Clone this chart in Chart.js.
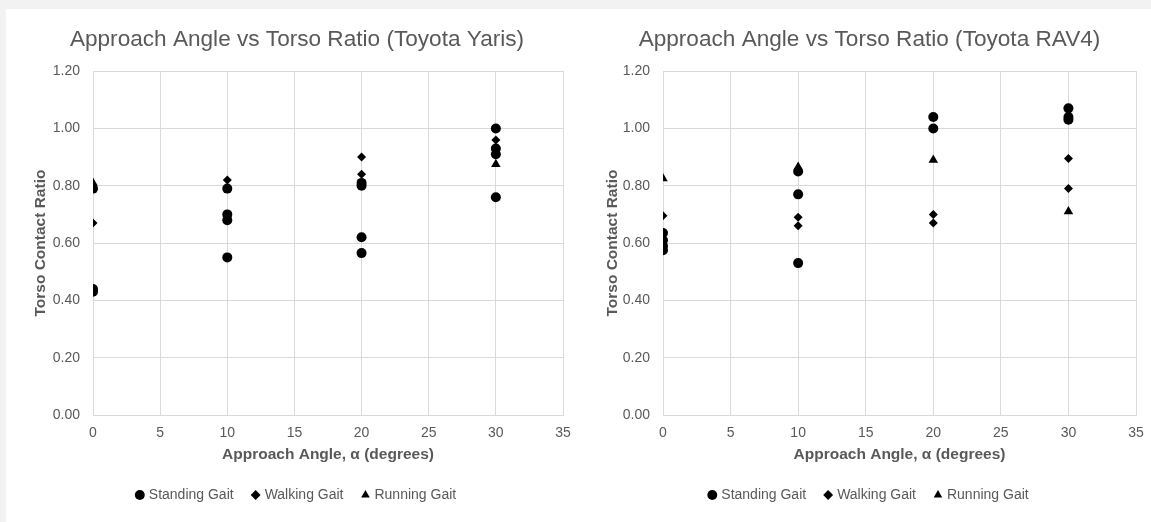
<!DOCTYPE html>
<html>
<head>
<meta charset="utf-8">
<script src="https://cdn.jsdelivr.net/npm/chart.js@4.4.1/dist/chart.umd.min.js"></script>
<style>
  html, body { margin: 0; padding: 0; background: #f2f2f2; overflow: hidden; }
  #panel { position: absolute; left: 6px; top: 9px; width: 1145px; height: 513px; background: #fff; }
  canvas { position: absolute; top: 0; }
  #yaris { left: 0; }
  #rav4 { left: 575px; }
</style>
</head>
<body>
<div id="panel"></div>
<canvas id="yaris" width="583" height="522"></canvas>
<canvas id="rav4" width="581" height="522"></canvas>
<script>
// Toyota Yaris
const yarisStandingX = [0, 0, 0, 10, 10, 10, 10, 20, 20, 20, 20, 30, 30, 30, 30];
const yarisStandingY = [0.79, 0.44, 0.43, 0.79, 0.70, 0.68, 0.55, 0.81, 0.80, 0.62, 0.565, 1.00, 0.93, 0.91, 0.76];
const yarisWalkingX = [0, 10, 20, 20, 30];
const yarisWalkingY = [0.67, 0.82, 0.90, 0.84, 0.96];
const yarisRunningX = [0, 30];
const yarisRunningY = [0.81, 0.875];

// Toyota RAV4
const ravStandingX = [0, 0, 0, 0, 10, 10, 10, 20, 20, 30, 30, 30];
const ravStandingY = [0.635, 0.61, 0.59, 0.575, 0.85, 0.77, 0.53, 1.04, 1.00, 1.07, 1.04, 1.03];
const ravWalkingX = [0, 10, 10, 20, 20, 30, 30];
const ravWalkingY = [0.695, 0.69, 0.66, 0.70, 0.67, 0.895, 0.79];
const ravRunningX = [0, 10, 20, 30];
const ravRunningY = [0.825, 0.865, 0.89, 0.71];

const xTickStep = 5;
const yTickStep = 0.2;

const grey = '#595959';
const gridColor = '#d9d9d9';
const fontFamily = '"Liberation Sans", Arial, sans-serif';

function pts(xs, ys) {
    return xs.map((x, i) => ({ x: x, y: ys[i] }));
}

function makeChart(id, title, standing, walking, running, lay) {
    const ctx = document.getElementById(id).getContext('2d');
    return new Chart(ctx, {
        type: 'scatter',
        data: {
            datasets: [{
                label: 'Standing Gait',
                data: standing,
                pointStyle: 'circle',
                pointRadius: 5,
                backgroundColor: '#000',
                borderColor: '#000',
                borderWidth: 0
            }, {
                label: 'Walking Gait',
                data: walking,
                pointStyle: 'rectRot',
                pointRadius: 4.5,
                backgroundColor: '#000',
                borderColor: '#000',
                borderWidth: 0
            }, {
                label: 'Running Gait',
                data: running,
                pointStyle: 'triangle',
                pointRadius: 5.5,
                backgroundColor: '#000',
                borderColor: '#000',
                borderWidth: 0
            }]
        },
        options: {
            responsive: false,
            animation: false,
            devicePixelRatio: 1,
            layout: { padding: { left: lay.padL, right: lay.padR, top: 0, bottom: 10 } },
            plugins: {
                title: {
                    display: true,
                    text: title,
                    color: grey,
                    font: { family: fontFamily, size: 22.6, weight: 'normal' },
                    padding: { top: 26, bottom: 18 }
                },
                legend: {
                    position: 'bottom',
                    labels: {
                        usePointStyle: true,
                        boxWidth: 4,
                        boxHeight: 7,
                        padding: 20,
                        color: grey,
                        font: { family: fontFamily, size: 14 }
                    }
                },
                tooltip: { enabled: false }
            },
            scales: {
                x: {
                    type: 'linear',
                    min: 0,
                    max: 35,
                    afterFit: function(scale) { scale.height = 53; },
                    grid: { color: gridColor, drawTicks: false },
                    border: { color: gridColor },
                    ticks: {
                        stepSize: xTickStep,
                        padding: 10,
                        color: grey,
                        font: { family: fontFamily, size: 14 }
                    },
                    title: {
                        display: true,
                        text: 'Approach Angle, α (degrees)',
                        color: grey,
                        font: { family: fontFamily, size: 15.5, weight: 'bold' },
                        padding: { top: 0, bottom: 4 }
                    }
                },
                y: {
                    min: 0,
                    max: 1.2,
                    afterFit: function(scale) { scale.width = lay.yWidth; },
                    grid: { color: gridColor, drawTicks: false },
                    border: { color: gridColor },
                    ticks: {
                        stepSize: yTickStep,
                        padding: 13,
                        color: grey,
                        font: { family: fontFamily, size: 14 },
                        callback: function(value) { return value.toFixed(2); }
                    },
                    title: {
                        display: true,
                        text: 'Torso Contact Ratio',
                        color: grey,
                        font: { family: fontFamily, size: 15.5, weight: 'bold' },
                        padding: { top: 0, bottom: 0 }
                    }
                }
            }
        }
    });
}

makeChart('yaris', 'Approach Angle vs Torso Ratio (Toyota Yaris)',
    pts(yarisStandingX, yarisStandingY), pts(yarisWalkingX, yarisWalkingY), pts(yarisRunningX, yarisRunningY),
    { padL: 31, padR: 20, yWidth: 62 });

makeChart('rav4', 'Approach Angle vs Torso Ratio (Toyota RAV4)',
    pts(ravStandingX, ravStandingY), pts(ravWalkingX, ravWalkingY), pts(ravRunningX, ravRunningY),
    { padL: 28, padR: 20, yWidth: 60 });
</script>
</body>
</html>
